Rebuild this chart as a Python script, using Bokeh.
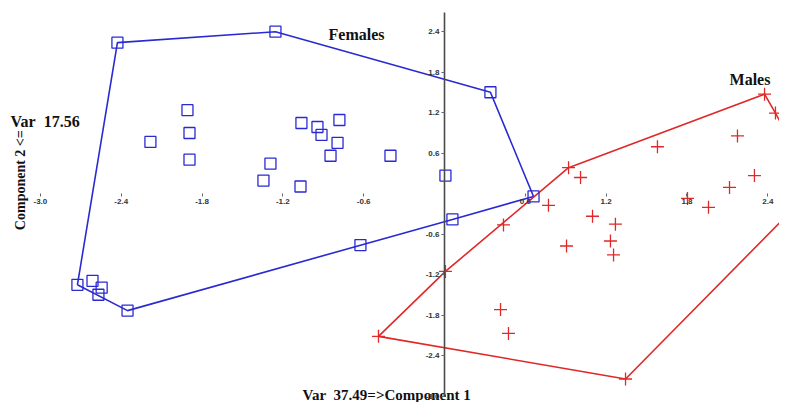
from bokeh.plotting import figure
from bokeh.embed import file_html
from bokeh.resources import INLINE
from bokeh.models import FixedTicker, PrintfTickFormatter, Range1d
from bokeh.core.properties import value

# ---- data (PCA scores) ----
females_x = [-2.428, -1.255, 0.341, 0.661, 0.059, -0.624, -2.353, -2.725, -2.613, -2.545,
             -2.569, -2.183, -1.908, -1.893, -1.893, -1.062, -0.943, -0.913, -0.780,
             -0.794, -0.846, -0.401, -1.292, -1.344, -1.069, 0.007]
females_y = [2.236, 2.398, 1.502, -0.040, -0.380, -0.760, -1.730, -1.348, -1.289, -1.391,
             -1.495, 0.767, 1.237, 0.899, 0.504, 1.047, 0.988, 0.870, 1.091,
             0.753, 0.562, 0.562, 0.445, 0.195, 0.107, 0.269]

males_x = [-0.490, 0.007, 0.438, 0.921, 2.376, 2.457, 2.754, 1.344, 0.772, 1.010, 1.581,
           2.175, 2.301, 2.116, 1.804, 1.960, 1.099, 1.269, 1.232, 1.255, 0.906,
           0.416, 0.475]
males_y = [-2.111, -1.150, -0.462, 0.386, 1.473, 1.194, 0.108, -2.742, -0.172, 0.240, 0.695,
           0.856, 0.269, 0.093, -0.069, -0.201, -0.333, -0.451, -0.700, -0.906, -0.774,
           -1.714, -2.067]

tick_values = [-3.0, -2.4, -1.8, -1.2, -0.6, 0.6, 1.2, 1.8, 2.4]

group_names = ["Females", "Males"]
x_title = "Var\u00a0\u00a037.49=>Component 1"
y_title_var = "Var\u00a0\u00a017.56"
y_title_comp = "Component 2 <="

BLUE = "#2a2ad2"
RED = "#e02828"


def convex_hull(xs, ys):
    pts = sorted(set(zip(xs, ys)))
    if len(pts) < 3:
        return pts

    def cross(o, a, b):
        return (a[0] - o[0]) * (b[1] - o[1]) - (a[1] - o[1]) * (b[0] - o[0])

    lower = []
    for p_ in pts:
        while len(lower) >= 2 and cross(lower[-2], lower[-1], p_) <= 0:
            lower.pop()
        lower.append(p_)
    upper = []
    for p_ in reversed(pts):
        while len(upper) >= 2 and cross(upper[-2], upper[-1], p_) <= 0:
            upper.pop()
        upper.append(p_)
    return lower[:-1] + upper[:-1]


p = figure(width=779, height=402, output_backend="svg", toolbar_location=None,
           x_range=Range1d(-3.296, 2.487), y_range=Range1d(-3.09, 2.86),
           min_border=0, min_border_left=0, min_border_right=0,
           min_border_top=0, min_border_bottom=0)
p.outline_line_color = None
p.grid.visible = False
p.background_fill_color = "white"

# axes crossing at the origin
for ax in (p.xaxis[0], p.yaxis[0]):
    ax.fixed_location = 0
    ax.ticker = FixedTicker(ticks=tick_values)
    ax.formatter = PrintfTickFormatter(format="%.1f")
    ax.minor_tick_line_color = None
    ax.major_label_text_font = "Liberation Sans"
    ax.major_label_text_font_style = "bold"
    ax.major_label_text_font_size = "8px"
    ax.major_label_text_color = "#333333"
    ax.major_tick_in = 0
    ax.major_tick_out = 3
    ax.major_tick_line_color = "#666666"
    ax.major_label_standoff = 2

p.xaxis[0].axis_line_color = None
p.yaxis[0].axis_line_color = "#4a4a4a"
p.yaxis[0].axis_line_width = 1.6
p.yaxis[0].bounds = (-3.0, 2.68)

# hulls
for xs, ys, col in ((females_x, females_y, BLUE), (males_x, males_y, RED)):
    h = convex_hull(xs, ys)
    hx = [q[0] for q in h] + [h[0][0]]
    hy = [q[1] for q in h] + [h[0][1]]
    p.line(hx, hy, line_color=col, line_width=1.6)

# points
p.scatter(females_x, females_y, marker="square", size=11, fill_alpha=0,
          line_color=BLUE, line_width=1.3)
p.scatter(males_x, males_y, marker="cross", size=13, line_color=RED, line_width=1.3)

serif = value("Liberation Serif")
p.text(x=[-0.861], y=[2.354], text=[group_names[0]], text_font=serif,
       text_font_style="bold", text_font_size="16px", text_baseline="middle",
       text_color="#111111")
p.text(x=[2.116], y=[1.693], text=[group_names[1]], text_font=serif,
       text_font_style="bold", text_font_size="16px", text_baseline="middle",
       text_color="#111111")

p.text(x=[-3.222], y=[1.076], text=[y_title_var], text_font=serif,
       text_font_style="bold", text_font_size="16px", text_baseline="middle",
       text_color="#111111")
p.text(x=[-3.148], y=[-0.539], text=[y_title_comp], text_font=serif,
       text_font_style="bold", text_font_size="14px", text_baseline="middle",
       text_align="left", angle=1.5708, text_color="#111111")

p.text(x=[-1.054], y=[-3.09], text=[x_title], text_font=serif,
       text_font_style="bold", text_font_size="15px", text_baseline="bottom",
       text_color="#111111")

open("out.html", "w").write(file_html(p, INLINE))
